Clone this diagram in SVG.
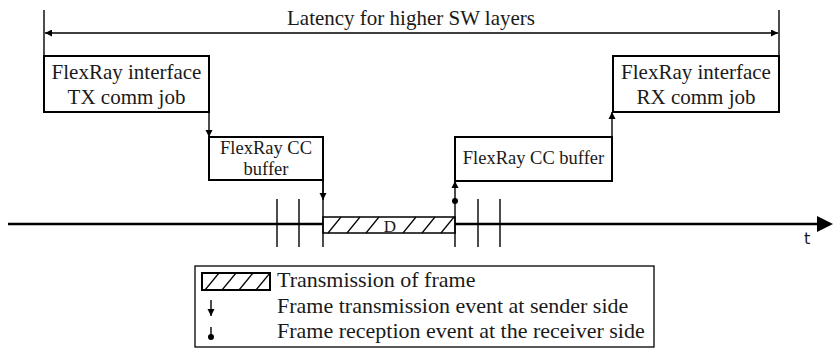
<svg xmlns="http://www.w3.org/2000/svg" width="833" height="349" viewBox="0 0 833 349">
<defs>
<style>
.t{font-family:'Liberation Serif','DejaVu Serif',serif;font-size:21px;fill:#1a1a1a}
.c{text-anchor:middle}
.box{fill:#fff;stroke:#000;stroke-width:2}
.ln{stroke:#000;stroke-width:1.4;fill:none}
.hl{stroke:#000;stroke-width:1.2}
</style>
<marker id="ah" viewBox="0 0 10 10" refX="10" refY="5" markerWidth="7" markerHeight="10" markerUnits="userSpaceOnUse" orient="auto-start-reverse"><path d="M0,0L10,5L0,10z" fill="#000"/></marker>
<marker id="ahl" viewBox="0 0 10 10" refX="10" refY="5" markerWidth="13" markerHeight="7" markerUnits="userSpaceOnUse" orient="auto-start-reverse"><path d="M0,0L10,5L0,10z" fill="#000"/></marker>
</defs>
<rect width="833" height="349" fill="#fff"/>
<g id="latency">
<line class="ln" x1="44" y1="10" x2="44" y2="56"/>
<line class="ln" x1="779" y1="10" x2="779" y2="56"/>
<line class="ln" x1="45" y1="33" x2="778" y2="33" marker-start="url(#ahl)" marker-end="url(#ahl)"/>
<text class="t c" x="411" y="25">Latency for higher SW layers</text>
</g>
<g id="axis">
<line x1="8" y1="224" x2="819" y2="224" stroke="#000" stroke-width="2.5"/>
<path d="M817,216L833,224L817,232z" fill="#000"/>
<text x="804" y="244" font-family="'DejaVu Sans', sans-serif" font-size="16" fill="#1a1a1a">t</text>
<line class="ln" x1="277" y1="199" x2="277" y2="247"/>
<line class="ln" x1="299" y1="199" x2="299" y2="247"/>
<line class="ln" x1="478" y1="199" x2="478" y2="247"/>
<line class="ln" x1="500" y1="199" x2="500" y2="247"/>
</g>
<g id="frame">
<rect x="323" y="217" width="132" height="16" fill="#fff" stroke="#000" stroke-width="1.5"/>
<g class="hl">
<line x1="328" y1="233" x2="341" y2="217"/>
<line x1="347" y1="233" x2="360" y2="217"/>
<line x1="366" y1="233" x2="379" y2="217"/>
<line x1="403" y1="233" x2="416" y2="217"/>
<line x1="422" y1="233" x2="435" y2="217"/>
<line x1="441" y1="233" x2="454" y2="217"/>
</g>
<text class="t c" x="390" y="232" style="font-size:17px">D</text>
</g>
<g id="tx-job">
<rect class="box" x="44" y="56" width="165" height="56"/>
<text class="t c" x="126.5" y="79">FlexRay interface</text>
<text class="t c" x="126.5" y="104">TX comm job</text>
</g>
<g id="rx-job">
<rect class="box" x="613" y="56" width="166" height="56"/>
<text class="t c" x="696" y="79">FlexRay interface</text>
<text class="t c" x="696" y="104">RX comm job</text>
</g>
<g id="cc-tx">
<rect class="box" x="209" y="137" width="114" height="43"/>
<text class="t c" x="266" y="154" style="font-size:18.5px">FlexRay CC</text>
<text class="t c" x="266" y="175" style="font-size:18.5px">buffer</text>
</g>
<g id="cc-rx">
<rect class="box" x="455" y="137" width="157" height="44"/>
<text class="t c" x="533.5" y="164" style="font-size:18.5px">FlexRay CC buffer</text>
</g>
<g id="connectors">
<line class="ln" x1="209" y1="112" x2="209" y2="137" stroke-width="1.6" marker-end="url(#ah)"/>
<line class="ln" x1="323" y1="180" x2="323" y2="247" stroke-width="1.6"/>
<line class="ln" x1="323" y1="180" x2="323" y2="200" stroke-width="1.6" marker-end="url(#ah)"/>
<line class="ln" x1="455" y1="201" x2="455" y2="247" stroke-width="1.6"/>
<line class="ln" x1="455" y1="201" x2="455" y2="181" stroke-width="1.6" marker-end="url(#ah)"/>
<circle cx="455" cy="201" r="3"/>
<line class="ln" x1="612" y1="137" x2="612" y2="112" stroke-width="1.6" marker-end="url(#ah)"/>
</g>
<g id="legend">
<rect x="195" y="266" width="459" height="81" fill="#fff" stroke="#000" stroke-width="1.3"/>
<rect x="202" y="273" width="68" height="17" fill="#fff" stroke="#000" stroke-width="2"/>
<g class="hl">
<line x1="205" y1="290" x2="219" y2="273"/>
<line x1="222" y1="290" x2="236" y2="273"/>
<line x1="239" y1="290" x2="253" y2="273"/>
<line x1="256" y1="290" x2="270" y2="273"/>
</g>
<text class="t" x="277" y="287" style="font-size:22px">Transmission of frame</text>
<line class="ln" x1="211" y1="300" x2="211" y2="316" marker-end="url(#ah)"/>
<text class="t" x="277" y="313" style="font-size:22px">Frame transmission event at sender side</text>
<line class="ln" x1="211" y1="337" x2="211" y2="327"/>
<circle cx="211" cy="337" r="3"/>
<text class="t" x="277" y="338" style="font-size:22px">Frame reception event at the receiver side</text>
</g>
</svg>
